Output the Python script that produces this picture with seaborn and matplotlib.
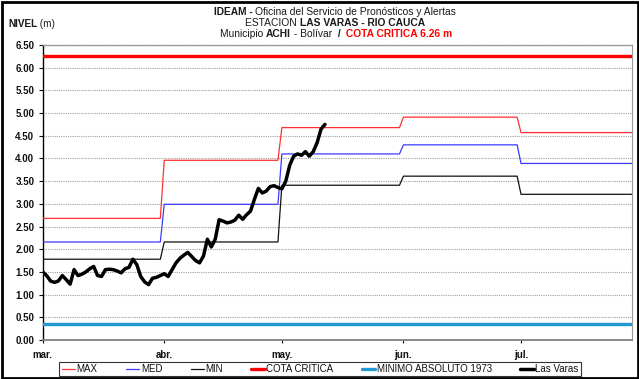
import numpy as np
import pandas as pd
import matplotlib
matplotlib.use("Agg")
import matplotlib.pyplot as plt
import matplotlib.dates as mdates
from matplotlib import font_manager
from matplotlib.patches import Rectangle
import seaborn as sns

# Monthly reference levels (m) for the LAS VARAS station
months = ["mar.", "abr.", "may.", "jun.", "jul."]
month_starts = ["2021-03-01", "2021-04-01", "2021-05-01", "2021-06-01", "2021-07-01"]
nivel_max = [2.68, 3.96, 4.68, 4.91, 4.57]
nivel_med = [2.16, 2.99, 4.10, 4.30, 3.89]
nivel_min = [1.78, 2.16, 3.41, 3.61, 3.21]

cota_critica = 6.26
minimo_absoluto_1973 = 0.36

# Daily observed level at Las Varas, starting 1 March
obs_start = "2021-03-01"
las_varas = [
    1.50, 1.42, 1.30, 1.27, 1.30, 1.42, 1.33, 1.23, 1.55, 1.42,
    1.45, 1.50, 1.57, 1.62, 1.42, 1.40, 1.55, 1.56, 1.55, 1.52,
    1.48, 1.57, 1.60, 1.78, 1.66, 1.40, 1.28, 1.22, 1.36, 1.38,
    1.42, 1.46, 1.40, 1.55, 1.70, 1.80, 1.87, 1.93, 1.84, 1.75,
    1.70, 1.85, 2.22, 2.05, 2.22, 2.65, 2.62, 2.58, 2.60, 2.64,
    2.75, 2.66, 2.76, 2.84, 3.10, 3.34, 3.24, 3.28, 3.38, 3.40,
    3.36, 3.33, 3.50, 3.85, 4.05, 4.10, 4.07, 4.15, 4.05, 4.15,
    4.35, 4.65, 4.75,
]

y_ticks = np.arange(0, 6.51, 0.5)

# ---------------------------------------------------------------- fonts
installed = {f.name for f in font_manager.fontManager.ttflist}
base_font = "Liberation Sans Narrow" if "Liberation Sans Narrow" in installed else "Liberation Sans"

sns.set_style("white")
plt.rcParams["font.family"] = [base_font, "DejaVu Sans"]
plt.rcParams["axes.unicode_minus"] = False

# ---------------------------------------------------------------- data frames
dates = pd.date_range("2021-03-01", "2021-07-31", freq="D")
month_idx = {3: 0, 4: 1, 5: 2, 6: 3, 7: 4}
ref = pd.DataFrame({
    "fecha": dates,
    "MAX": [nivel_max[month_idx[d.month]] for d in dates],
    "MED": [nivel_med[month_idx[d.month]] for d in dates],
    "MIN": [nivel_min[month_idx[d.month]] for d in dates],
    "COTA": cota_critica,
    "MINIMO": minimo_absoluto_1973,
})
obs = pd.DataFrame({
    "fecha": pd.date_range(obs_start, periods=len(las_varas), freq="D"),
    "nivel": las_varas,
})

# ---------------------------------------------------------------- figure
W, H = 639, 379
fig = plt.figure(figsize=(W / 100, H / 100), dpi=100)
ax = fig.add_axes([42.7 / W, 1 - 340 / H, (632 - 42.7) / W, (340 - 45) / H])

series = [
    ("MAX", "MAX", "#ff3030", 0.9),
    ("MED", "MED", "#3a3aff", 0.9),
    ("MIN", "MIN", "#111111", 0.9),
    ("COTA", "COTA CRITICA", "#ff0000", 2.4),
    ("MINIMO", "MINIMO ABSOLUTO 1973", "#1f9ad2", 2.4),
]
for col, label, color, lw in series:
    sns.lineplot(data=ref, x="fecha", y=col, ax=ax, color=color, lw=lw,
                 label=label, legend=False, zorder=3)
sns.lineplot(data=obs, x="fecha", y="nivel", ax=ax, color="black", lw=2.5,
             label="Las Varas", legend=False, zorder=4, solid_joinstyle="round")

# ---------------------------------------------------------------- axes styling
x0 = mdates.date2num(pd.Timestamp("2021-03-01"))
ax.set_xlim(x0, x0 + 150.3)
ax.set_ylim(0, 6.5)
ax.set_xticks(pd.to_datetime(month_starts))
ax.set_xticklabels(months, fontsize=7, fontweight="bold")
ax.set_yticks(y_ticks)
ax.set_yticklabels([f"{v:.2f}" for v in y_ticks], fontsize=7, fontweight="bold")
ax.set_xlabel("")
ax.set_ylabel("")
ax.tick_params(axis="y", direction="out", length=3, width=0.8, pad=3, colors="#111111", left=True)
ax.tick_params(axis="x", direction="out", length=2.5, width=0.8, pad=5, colors="#111111", bottom=True)
ax.grid(axis="y", color="#a0a0a0", lw=0.8, linestyle=(0, (1, 1)), zorder=0)
ax.grid(axis="x", visible=False)
ax.set_axisbelow(True)
ax.spines["left"].set_color("black")
ax.spines["left"].set_linewidth(1.0)
ax.spines["bottom"].set_color("#808080")
ax.spines["bottom"].set_linewidth(1.3)
ax.spines["top"].set_color("#9a9a9a")
ax.spines["top"].set_linewidth(1.0)
ax.spines["right"].set_color("#9a9a9a")
ax.spines["right"].set_linewidth(0.8)
for s in ax.spines.values():
    s.set_visible(True)

# ---------------------------------------------------------------- legend
handles, labels = ax.get_legend_handles_labels()
leg = fig.legend(handles, labels, loc="center", bbox_to_anchor=(320 / W, 1 - 369 / H),
                 ncol=6, fontsize=7, frameon=True, fancybox=False, edgecolor="black",
                 handlelength=1.4, handletextpad=0.15, columnspacing=2.9,
                 borderpad=0.25, borderaxespad=0)
leg.get_frame().set_linewidth(0.8)
for t in leg.get_texts():
    t.set_color("#111111")


# ---------------------------------------------------------------- titles
def rich_line(y_px, segments, size, x_center_px=None, x_left_px=None):
    renderer = fig.canvas.get_renderer()
    texts, widths = [], []
    for s, weight, color in segments:
        t = fig.text(0, 1 - y_px / H, s, fontsize=size, fontweight=weight,
                     color=color, va="center", ha="left")
        texts.append(t)
        widths.append(t.get_window_extent(renderer=renderer).width)
    total = sum(widths)
    x = x_left_px if x_left_px is not None else x_center_px - total / 2
    for t, w in zip(texts, widths):
        t.set_x(x / W)
        x += w


dark = "#1a1a1a"
rich_line(12, [("IDEAM - ", "bold", dark),
               ("Oficina del Servicio de Pronósticos y Alertas", "normal", dark)], 7.4, 335)
rich_line(23, [("ESTACION ", "normal", dark),
               ("LAS VARAS - RIO CAUCA", "bold", dark)], 7.4, 335)
rich_line(34, [("Municipio ", "normal", dark), ("ACHI", "bold", dark),
               (" - Bolívar ", "normal", dark), (" / ", "bold", dark),
               (" COTA CRITICA 6.26 m", "bold", "#ff0000")], 7.4, 336)
rich_line(24, [("NIVEL", "bold", dark), (" (m)", "normal", dark)], 7.2, x_left_px=8)

# outer frame around the whole chart
fig.add_artist(Rectangle((1.5 / W, 1.5 / H), (W - 3) / W, (H - 3) / H,
                         transform=fig.transFigure, fill=False,
                         edgecolor="black", lw=2.0))

fig.savefig("out.png", dpi=100)
